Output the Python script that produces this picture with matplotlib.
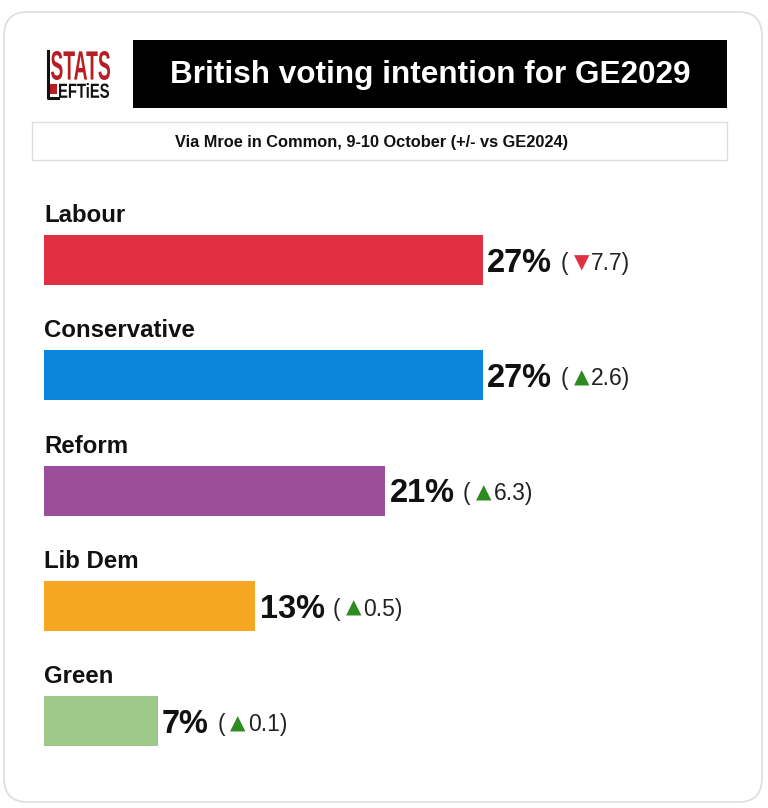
import matplotlib.pyplot as plt
from matplotlib.patches import FancyBboxPatch, Rectangle, PathPatch
from matplotlib.textpath import TextPath
from matplotlib.font_manager import FontProperties
from matplotlib.transforms import Affine2D

plt.rcParams['font.family'] = ['Liberation Sans', 'DejaVu Sans']

# data
parties = ['Labour', 'Conservative', 'Reform', 'Lib Dem', 'Green']
shares = [27, 27, 21, 13, 7]
changes = [-7.7, 2.6, 6.3, 0.5, 0.1]
colors = ['#e03041', '#0a87dc', '#9b4f9b', '#f5a623', '#9dc888']

title = 'British voting intention for GE2029'
subtitle = 'Via Mroe in Common, 9-10 October (+/- vs GE2024)'

W, H = 768, 808
fig = plt.figure(figsize=(W / 100, H / 100), dpi=100)


def fx(px):
    return px / W


def fy(py):
    return 1 - py / H


def squeezed_text(s, x0, y0, x1, y1, color):
    # text squashed into a pixel box (the logo uses a very condensed face)
    tp = TextPath((0, 0), s, size=1, prop=FontProperties(family='Liberation Sans', weight='bold'))
    ext = tp.get_extents()
    tr = (Affine2D().translate(-ext.x0, -ext.y0)
          .scale((fx(x1) - fx(x0)) / ext.width, (fy(y0) - fy(y1)) / ext.height)
          .translate(fx(x0), fy(y1)))
    fig.patches.append(PathPatch(tr.transform_path(tp), transform=fig.transFigure,
                                 facecolor=color, edgecolor='none'))


# card background
card = FancyBboxPatch((fx(4), fy(802)), fx(758), fy(12) - fy(802),
                      boxstyle='round,pad=0,rounding_size=0.03',
                      transform=fig.transFigure, facecolor='white',
                      edgecolor='#dddddd', linewidth=1.2, zorder=-1)
fig.patches.append(card)

# title box
fig.patches.append(Rectangle((fx(133), fy(108)), fx(594), fy(40) - fy(108),
                             transform=fig.transFigure, facecolor='black', edgecolor='none'))
fig.text(fx(430), fy(75), title, color='white', fontsize=22.7, fontweight='bold',
         ha='center', va='center')

# subtitle box
fig.patches.append(Rectangle((fx(32), fy(160)), fx(695), fy(122) - fy(160),
                             transform=fig.transFigure, facecolor='white',
                             edgecolor='#dddddd', linewidth=1))
fig.text(fx(372), fy(142), subtitle, color='#111111', fontsize=11.8, fontweight='bold',
         ha='center', va='center')

# logo
squeezed_text('STATS', 51, 51, 110, 80, '#b81d24')
squeezed_text('EFTiES', 59, 83, 109, 98, '#111111')
fig.lines.append(plt.Line2D([fx(47.5), fx(47.5), fx(58)], [fy(51), fy(97.5), fy(97.5)],
                            transform=fig.transFigure, color='#111111', linewidth=2.2))
fig.patches.append(Rectangle((fx(49), fy(94)), fx(8), fy(84) - fy(94),
                             transform=fig.transFigure, facecolor='#b81d24', edgecolor='none'))

# bar axes: left edge at 44px, 16.26px per percentage point
left, right, top, bottom = 44, 727, 180, 780
ax = fig.add_axes([fx(left), fy(bottom), fx(right - left), fy(top) - fy(bottom)])
ax.set_zorder(2)
ax.patch.set_visible(False)
ax.set_xlim(0, (right - left) / 16.26)
spacing = 115.25
ax.set_ylim((bottom - 260) / spacing, -(260 - top) / spacing)
ax.axis('off')

pos = list(range(len(parties)))
ax.barh(pos, shares, height=50 / spacing, color=colors)

for i, (p, s, c) in enumerate(zip(parties, shares, changes)):
    ax.text(0, i - 0.385, p, fontsize=17.3, fontweight='bold', ha='left', va='center',
            color='#111111')
    t1 = ax.annotate(f'{s}%', xy=(s, i), xytext=(3, -2.5), textcoords='offset points',
                     fontsize=23.5, fontweight='bold', ha='left', va='center',
                     color='#111111')
    t2 = ax.annotate('(', xy=(1, 0.5), xycoords=t1, xytext=(6, 0),
                     textcoords='offset points', fontsize=16.5, ha='left',
                     va='center', color='#222222')
    arrow = '▼' if c < 0 else '▲'
    acol = '#e03041' if c < 0 else '#2e8b22'
    t3 = ax.annotate(arrow, xy=(1, 0.5), xycoords=t2, xytext=(4, 0.5),
                     textcoords='offset points', fontsize=14.5, ha='left',
                     va='center', color=acol, family='DejaVu Sans')
    ax.annotate(f'{abs(c):.1f})', xy=(1, 0.5), xycoords=t3, xytext=(1.5, -0.5),
                textcoords='offset points', fontsize=16.5, ha='left',
                va='center', color='#222222')

fig.savefig('out.png', dpi=100)
